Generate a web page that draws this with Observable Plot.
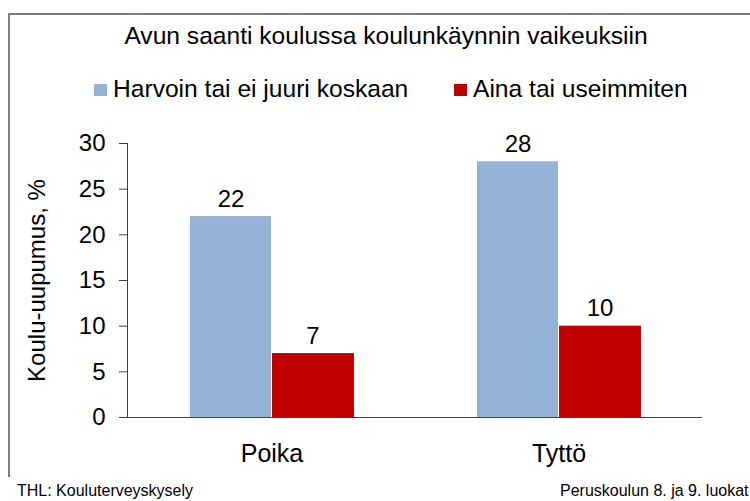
<!DOCTYPE html>
<html>
<head>
<meta charset="utf-8">
<script src="https://cdn.jsdelivr.net/npm/d3@7"></script>
<script src="https://cdn.jsdelivr.net/npm/@observablehq/plot@0.6"></script>
<style>
  html, body { margin: 0; padding: 0; background: #fff; }
  body { font-family: "Liberation Sans", Arial, sans-serif; color: #000; }
  #wrap { position: relative; width: 750px; height: 501px; overflow: hidden; background: #fff; }
  #border { position: absolute; left: 8px; top: 13px; width: 800px; height: 464px;
            border-left: 2px solid #808080; border-top: 2px solid #808080; box-sizing: border-box; }
  #title { position: absolute; top: 24px; left: 386px; transform: translateX(-50%);
           white-space: nowrap; font-size: 24.6px; line-height: 24px; }
  .leg { position: absolute; top: 77px; display: flex; align-items: center; white-space: nowrap;
         font-size: 24.6px; line-height: 24px; }
  .sw { width: 13px; height: 12px; margin-right: 6px; margin-top: 1px; }
  #chart { position: absolute; left: 0; top: 110px; }
  .foot { position: absolute; top: 483px; font-size: 16px; line-height: 16px; white-space: nowrap; }
</style>
</head>
<body>
<div id="wrap">
  <div id="border"></div>
  <div id="title"></div>
  <div id="legend"></div>
  <div id="chart"></div>
  <div class="foot" id="footL" style="left:17px"></div>
  <div class="foot" id="footR" style="left:560px"></div>
</div>
<script>
const titleText = "Avun saanti koulussa koulunkäynnin vaikeuksiin";
const yLabel = "Koulu-uupumus, %";
const categories = ["Poika", "Tyttö"];
const series = ["Harvoin tai ei juuri koskaan", "Aina tai useimmiten"];
const harvoin = [22, 28];
const aina = [7, 10];
const yTicks = [0, 5, 10, 15, 20, 25, 30];
const colors = ["#95B3D7", "#C00000"];
const footLeft = "THL: Kouluterveyskysely";
const footRight = "Peruskoulun 8. ja 9. luokat";

const rowsH = categories.map((c, i) => ({category: c, series: series[0], value: harvoin[i]}));
const rowsA = categories.map((c, i) => ({category: c, series: series[1], value: aina[i]}));

document.getElementById("title").textContent = titleText;
document.getElementById("footL").textContent = footLeft;
document.getElementById("footR").textContent = footRight;

const legendLeft = [94, 454];
const legend = document.getElementById("legend");
series.forEach((s, i) => {
  const item = document.createElement("div");
  item.className = "leg";
  item.style.left = legendLeft[i] + "px";
  const sw = document.createElement("div");
  sw.className = "sw";
  sw.style.background = colors[i];
  const t = document.createElement("span");
  t.textContent = s;
  item.appendChild(sw);
  item.appendChild(t);
  legend.appendChild(item);
});

const axisColor = "#404040";
const font = '"Liberation Sans", Arial, sans-serif';

const chart = Plot.plot({
  width: 750,
  height: 370,
  marginLeft: 127,
  marginRight: 48,
  marginTop: 33,
  marginBottom: 63,
  style: {fontFamily: font, fontSize: "24px", color: "#000", background: "transparent", overflow: "visible"},
  x: {domain: categories, padding: 0},
  y: {domain: [0, 30]},
  marks: [
    Plot.barY(rowsH, {x: "category", y: "value", fill: colors[0], insetLeft: 62, insetRight: 144}),
    Plot.barY(rowsA, {x: "category", y: "value", fill: colors[1], insetLeft: 144, insetRight: 61}),
    Plot.text(rowsH, {x: "category", y: "value", text: d => String(d.value), dx: -41, dy: -10,
      lineAnchor: "bottom", textAnchor: "middle", fontSize: 24, fill: "#000"}),
    Plot.text(rowsA, {x: "category", y: "value", text: d => String(d.value), dx: 41, dy: -10,
      lineAnchor: "bottom", textAnchor: "middle", fontSize: 24, fill: "#000"}),
    Plot.axisY({ticks: yTicks, tickSize: 8, tickPadding: 14, stroke: axisColor, fill: "#000",
      label: null, fontSize: 24}),
    Plot.frame({anchor: "left", stroke: axisColor}),
    Plot.ruleY([0], {stroke: axisColor, insetLeft: -8}),
    Plot.axisX({tickSize: 0, tickPadding: 27, label: null, fontSize: 25, fill: "#000"}),
    Plot.text([yLabel], {frameAnchor: "left", rotate: -90, dx: -90, textAnchor: "middle",
      lineAnchor: "middle", fontSize: 24, fill: "#000"})
  ]
});
document.getElementById("chart").appendChild(chart);
</script>
</body>
</html>
